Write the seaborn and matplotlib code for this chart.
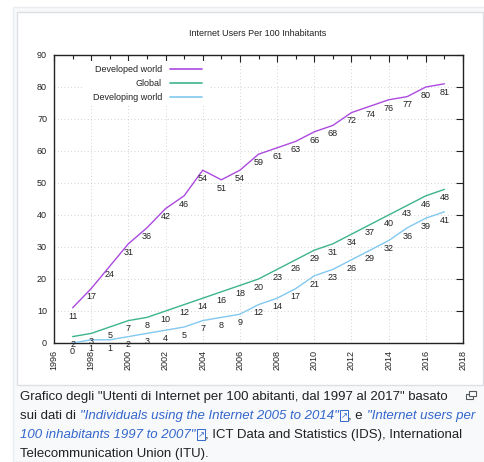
import matplotlib
matplotlib.use("Agg")
import matplotlib.pyplot as plt
import seaborn as sns
import pandas as pd
from matplotlib.patches import Rectangle
from matplotlib.text import Annotation
from matplotlib.ticker import MultipleLocator

years = list(range(1997, 2018))
developed = [11, 17, 24, 31, 36, 42, 46, 54, 51, 54, 59, 61, 63, 66, 68, 72, 74, 76, 77, 80, 81]
global_users = [2, 3, 5, 7, 8, 10, 12, 14, 16, 18, 20, 23, 26, 29, 31, 34, 37, 40, 43, 46, 48]
developing = [0, 1, 1, 2, 3, 4, 5, 7, 8, 9, 12, 14, 17, 21, 23, 26, 29, 32, 36, 39, 41]

series_names = ["Developed world", "Global", "Developing world"]
series_colors = ["#ac4ae0", "#3db48c", "#82c8f0"]

df = pd.DataFrame({
    "year": years * 3,
    "value": developed + global_users + developing,
    "series": [series_names[0]] * len(years) + [series_names[1]] * len(years)
              + [series_names[2]] * len(years),
})

sns.set_style("white")
plt.rcParams['font.family'] = ['Liberation Sans', 'DejaVu Sans']

W, H = 485, 462
fig = plt.figure(figsize=(W / 100, H / 100), dpi=100)

# wiki thumbnail frames
fig.add_artist(Rectangle((13 / W, 0), 1, 1 - 7 / H, transform=fig.transFigure,
                         facecolor="#f8f9fa", edgecolor="#eaecf0", lw=1, zorder=-3))
fig.add_artist(Rectangle((17 / W, 1 - 385 / H), 466 / W, (385 - 12) / H,
                         transform=fig.transFigure, facecolor="white",
                         edgecolor="#dcdfe3", lw=1, zorder=-2))

ax = fig.add_axes([54 / W, 1 - 343 / H, (463 - 54) / W, (343 - 55) / H])
sns.lineplot(data=df, x="year", y="value", hue="series", palette=series_colors,
             hue_order=series_names, ax=ax, lw=1.0, legend=False, zorder=3)

ax.set_xlim(1996, 2018)
ax.set_ylim(0, 90)
ax.xaxis.set_major_locator(MultipleLocator(2))
ax.xaxis.set_minor_locator(MultipleLocator(1))
ax.yaxis.set_major_locator(MultipleLocator(10))
ax.set_xlabel("")
ax.set_ylabel("")
ax.tick_params(axis="both", which="both", direction="in", top=True, right=True,
               labelsize=6.5, colors="#222222", width=0.8)
ax.tick_params(axis="both", which="major", length=5, pad=5)
ax.tick_params(axis="x", which="minor", length=3)
plt.setp(ax.get_xticklabels(), rotation=90, va="top")
for s in ax.spines.values():
    s.set_color("#222222")
    s.set_linewidth(1.0)
ax.grid(True, which="major", color="#c4c4c4", lw=0.6, linestyle=(0, (1, 3)))
ax.set_axisbelow(True)

# value labels below each point
for vals in [developed, global_users, developing]:
    for yr, v in zip(years, vals):
        ax.annotate(str(v), (yr, v), xytext=(0, -6), textcoords="offset points",
                    ha="center", va="center", fontsize=6.5, color="#222222", zorder=4)

# gnuplot style key (opaque)
ax.add_patch(Rectangle((0.07, 0.83), 0.31, 0.15, transform=ax.transAxes,
                       facecolor="white", edgecolor="none", zorder=1))
for i, (name, c) in enumerate(zip(series_names, series_colors)):
    ky = 0.951 - i * 0.0485
    ax.text(0.264, ky, name, transform=ax.transAxes, ha="right", va="center",
            fontsize=6.5, color="#222222", zorder=4)
    ax.plot([0.284, 0.362], [ky, ky], transform=ax.transAxes, color=c, lw=1.2, zorder=4)

fig.text(258 / W, 1 - 34 / H, "Internet Users Per 100 Inhabitants", ha="center",
         va="center", fontsize=6.5, color="#222222")

# caption
cap_fs = 9.5
dark = "#202122"
link = "#3366cc"
fig.text(20 / W, 1 - 397 / H,
         "Grafico degli \"Utenti di Internet per 100 abitanti, dal 1997 al 2017\" basato",
         ha="left", va="center", fontsize=cap_fs, color=dark)

# enlarge icon (two overlapping boxes), no font has this symbol
fig.add_artist(Rectangle((466 / W, 1 - 399 / H), 7 / W, 5 / H, transform=fig.transFigure,
                         facecolor="none", edgecolor="#54595d", lw=0.8))
fig.add_artist(Rectangle((469 / W, 1 - 396 / H), 7 / W, 5 / H, transform=fig.transFigure,
                         facecolor="white", edgecolor="#54595d", lw=0.8))

EXT = "ext"


def chain_text(parts, x0, y0):
    t = fig.text(x0 / W, 1 - y0 / H, parts[0][0], ha="left", va="center",
                 fontsize=cap_fs, color=parts[0][1], style=parts[0][2])
    for txt, col, sty in parts[1:]:
        if txt == EXT:
            # external link icon: small boxed arrow
            t = fig.add_artist(Annotation(
                "\u2197", xy=(1, 0), xycoords=t, xytext=(1.5, 1.5),
                textcoords="offset points", ha="left", va="bottom", color=col,
                fontsize=6, family=["DejaVu Sans"],
                bbox=dict(boxstyle="square,pad=0.08", fc="none", ec=col, lw=0.7)))
            t = fig.add_artist(Annotation(
                " ", xy=(1, 0), xycoords=t, xytext=(0, -1.5),
                textcoords="offset points", ha="left", va="bottom", fontsize=2))
            continue
        t = fig.add_artist(Annotation(
            txt, xy=(1, 0), xycoords=t, xytext=(0, 0), textcoords="offset points",
            ha="left", va="bottom", color=col, style=sty, fontsize=cap_fs))
    return t


chain_text([("sui dati di ", dark, "normal"),
            ("\"Individuals using the Internet 2005 to 2014\"", link, "italic"),
            (EXT, link, "normal"),
            (", e ", dark, "normal"),
            ("\"Internet users per", link, "italic")], 20, 416)
chain_text([("100 inhabitants 1997 to 2007\"", link, "italic"),
            (EXT, link, "normal"),
            (", ICT Data and Statistics (IDS), International", dark, "normal")], 20, 435)
fig.text(20 / W, 1 - 454 / H, "Telecommunication Union (ITU).", ha="left",
         va="center", fontsize=cap_fs, color=dark)

fig.savefig("out.png", dpi=100)
